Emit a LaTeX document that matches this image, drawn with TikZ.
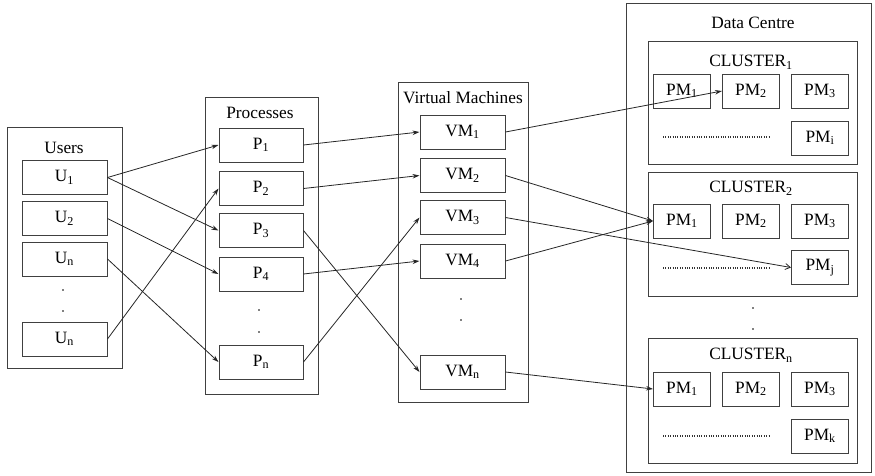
\documentclass[tikz,border=0pt]{standalone}
\usepackage{fontspec}
\setmainfont{Liberation Serif}
\usetikzlibrary{arrows.meta}
\tikzset{
  x=1pt, y=-1pt,
  frame/.style={draw=black!75, line width=1pt, fill=white},
  itembox/.style={draw=black!75, line width=1pt, inner sep=0pt, minimum height=34pt, font=\fontsize{17.3}{19}\selectfont},
  ubox/.style={itembox, minimum width=85pt},
  pmbox/.style={itembox, minimum width=57pt},
  title/.style={inner sep=0pt, font=\fontsize{17.3}{19}\selectfont},
  link/.style={draw=black!85, line width=0.8pt, -{Stealth[length=7pt,width=4.5pt]}},
  openlink/.style={draw=black!85, line width=0.8pt, -{Straight Barb[length=5pt,width=6pt]}},
  dot/.style={circle, fill=black, inner sep=0pt, minimum size=1.8pt},
  dotrow/.style={draw=black!80, line width=1.3pt, dash pattern=on 1pt off 1.4pt},
}
\newcommand{\sub}[2]{#1\textsubscript{#2}}
\begin{document}
\begin{tikzpicture}
\useasboundingbox (0,0) rectangle (875,475);

% Users column
\draw[frame] (7,127) rectangle (122,368);
\node[title] (usersT) at (64,148) {Users};
\node[ubox] (U1) at (64.5,177.5) {\sub{U}{1}};
\node[ubox] (U2) at (64.5,218.5) {\sub{U}{2}};
\node[ubox] (U3) at (64.5,259) {\sub{U}{n}};
\node[ubox] (U4) at (64.5,339) {\sub{U}{n}};
\node[dot] (ud1) at (63,290) {};
\node[dot] (ud2) at (63,311) {};

% Processes column
\draw[frame] (205,97) rectangle (318,394);
\node[title] (procT) at (260,113) {Processes};
\node[ubox, minimum width=84pt] (P1) at (261,145) {\sub{P}{1}};
\node[ubox, minimum width=84pt] (P2) at (261,188.5) {\sub{P}{2}};
\node[ubox, minimum width=84pt] (P3) at (261,230.5) {\sub{P}{3}};
\node[ubox, minimum width=84pt] (P4) at (261,274) {\sub{P}{4}};
\node[ubox, minimum width=84pt] (Pn) at (261,362) {\sub{P}{n}};
\node[dot] (pd1) at (259,310) {};
\node[dot] (pd2) at (259,332) {};

% Virtual machines column
\draw[frame] (398,82) rectangle (528,402);
\node[title] (vmT) at (463,98) {Virtual Machines};
\node[ubox] (VM1) at (462.5,132) {\sub{VM}{1}};
\node[ubox] (VM2) at (462.5,175.5) {\sub{VM}{2}};
\node[ubox] (VM3) at (462.5,217.5) {\sub{VM}{3}};
\node[ubox] (VM4) at (462.5,261) {\sub{VM}{4}};
\node[ubox] (VMn) at (462.5,372) {\sub{VM}{n}};
\node[dot] (vd1) at (461,299) {};
\node[dot] (vd2) at (461,320) {};

% Data centre with its clusters
\draw[frame] (626,3) rectangle (871,472);
\node[title] (dcT) at (753,23) {Data Centre};

% Cluster 1
\draw[frame] (648,41) rectangle (857,164);
\node[title] (c1T) at (751,62) {\sub{CLUSTER}{1}};
\node[pmbox] (A1) at (682,91) {\sub{PM}{1}};
\node[pmbox] (A2) at (751,91) {\sub{PM}{2}};
\node[pmbox] (A3) at (820,91) {\sub{PM}{3}};
\node[pmbox] (Ai) at (820,138) {\sub{PM}{i}};
\draw[dotrow] (663,137) -- (770,137);

% Cluster 2
\draw[frame] (648,172) rectangle (857,296);
\node[title] (c2T) at (751,188) {\sub{CLUSTER}{2}};
\node[pmbox] (B1) at (682,221) {\sub{PM}{1}};
\node[pmbox] (B2) at (751,221) {\sub{PM}{2}};
\node[pmbox] (B3) at (820,221) {\sub{PM}{3}};
\node[pmbox] (Bj) at (820,267.5) {\sub{PM}{j}};
\draw[dotrow] (663,268) -- (770,268);

\node[dot] (cd1) at (753,308) {};
\node[dot] (cd2) at (753,329) {};

% Cluster n
\draw[frame] (648,338) rectangle (857,463);
\node[title] (cnT) at (751,355) {\sub{CLUSTER}{n}};
\node[pmbox] (C1) at (682,389) {\sub{PM}{1}};
\node[pmbox] (C2) at (751,389) {\sub{PM}{2}};
\node[pmbox] (C3) at (820,389) {\sub{PM}{3}};
\node[pmbox] (Ck) at (820,436) {\sub{PM}{k}};
\draw[dotrow] (663,436) -- (770,436);

% Users to processes
\draw[link] (U1.east) -- (P1.west);
\draw[link] (U1.east) -- (P3.west);
\draw[link] (U2.east) -- (P4.west);
\draw[link] (U3.east) -- (Pn.west);
\draw[link] (U4.east) -- (P2.west);

% Processes to virtual machines
\draw[link] (P1.east) -- (VM1.west);
\draw[link] (P2.east) -- (VM2.west);
\draw[link] (P3.east) -- (VMn.west);
\draw[link] (P4.east) -- (VM4.west);
\draw[link] (Pn.east) -- (VM3.west);

% Virtual machines to physical machines
\draw[link] (VM1.east) -- (A2.west);
\draw[link] (VM2.east) -- (B1.west);
\draw[openlink] (VM3.east) -- (Bj.west);
\draw[link] (VM4.east) -- (B1.west);
\draw[link] (VMn.east) -- (C1.west);
\end{tikzpicture}
\end{document}
